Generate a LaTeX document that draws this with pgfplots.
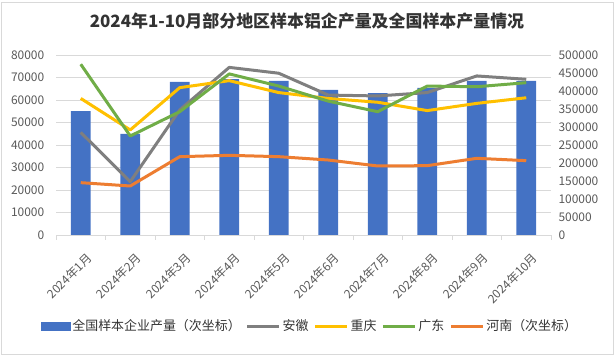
\documentclass[border=0pt]{standalone}
\usepackage{pgfplots}
\pgfplotsset{compat=1.18}
\usepackage{fontspec}
\setmainfont{Noto Sans CJK SC}
\definecolor{barblue}{HTML}{4472C4}
\definecolor{ahgray}{HTML}{7F7F7F}
\definecolor{cqyellow}{HTML}{FFC000}
\definecolor{gdgreen}{HTML}{70AD47}
\definecolor{hnorange}{HTML}{ED7D31}
\definecolor{gridgray}{HTML}{D9D9D9}
\definecolor{txtgray}{HTML}{595959}
\pgfplotsset{
  base/.style={
    scale only axis, width=495bp, height=180bp,
    at={(56bp,120bp)}, anchor=south west,
    xmin=-0.5, xmax=9.5, ymin=0,
    scaled y ticks=false,
    /pgf/number format/assume math mode=true,
    /pgf/number format/1000 sep={},
    /pgf/number format/fixed,
    tick label style={font=\fontsize{12}{13}\selectfont, text=txtgray},
  },
  lineleg/.style={legend image code/.code={\draw[##1] (0bp,0bp) -- (32bp,0bp);}},
  barleg/.style={legend image code/.code={\fill[barblue] (0bp,-4bp) rectangle (29bp,4bp);}},
}
\begin{document}
\begin{tikzpicture}
\useasboundingbox (0,0) rectangle (615bp,355bp);
\draw[gridgray, line width=0.75bp] (1bp,1bp) rectangle (613.5bp,353bp);
\node[font=\fontsize{17}{19}\selectfont\bfseries, text=black!80] at (307bp,334bp) {2024年1-10月部分地区样本铝企产量及全国样本产量情况};
% axis 1: grid, left labels, x labels
\begin{axis}[base,
  ymax=80000, ytick={0,10000,...,80000},
  ymajorgrids, grid style={gridgray, line width=0.75bp},
  axis lines*=left,
  y axis line style={draw=none},
  x axis line style={gridgray, line width=0.75bp},
  ytick style={draw=none},
  xtick={0,...,9},
  xticklabels={2024年1月,2024年2月,2024年3月,2024年4月,2024年5月,2024年6月,2024年7月,2024年8月,2024年9月,2024年10月},
  major x tick style={draw=none},
  minor xtick={-0.5,0.5,...,9.5},
  minor x tick style={gridgray, line width=0.75bp},
  minor tick length=5bp, tick align=outside,
  x tick label style={rotate=45, anchor=north east, yshift=-9bp, xshift=-2bp},
  y tick label style={xshift=-4bp},
]
\addplot[draw=none] coordinates {(0,0)};
\end{axis}
% axis 2: secondary axis with bars and Henan
\begin{axis}[base,
  ymax=500000, ytick={0,50000,...,500000},
  axis x line=none, axis y line*=right,
  y axis line style={draw=none}, ytick style={draw=none},
  y tick label style={xshift=4bp},
]
\addplot[ybar, bar width=0.4, fill=barblue, draw=none] coordinates {
 (0,344000) (1,281000) (2,425000) (3,433000) (4,428000)
 (5,403000) (6,394000) (7,409000) (8,428000) (9,428000)};
\addplot[hnorange, line width=3bp, line join=round] coordinates {
 (0,145400) (1,136100) (2,217600) (3,221300) (4,217600)
 (5,208300) (6,191700) (7,192600) (8,213000) (9,206500)};
\end{axis}
% axis 3: primary lines + legend
\begin{axis}[base,
  ymax=80000, hide axis,
  legend columns=5,
  legend style={at={(254bp,-91bp)}, anchor=center, draw=none, fill=none,
    font=\fontsize{13}{14}\selectfont, text=black!80,
    /tikz/every even column/.append style={column sep=3bp},
    /tikz/every odd column/.append style={column sep=0bp}},
  legend cell align=left,
]
\addlegendimage{barleg}
\addlegendentry{全国样本企业产量（次坐标）}
\addplot[ahgray, line width=3bp, line join=round, lineleg] coordinates {
 (0,45600) (1,23700) (2,55600) (3,74500) (4,71900)
 (5,62200) (6,61800) (7,63300) (8,70700) (9,69200)};
\addlegendentry{安徽}
\addplot[cqyellow, line width=3bp, line join=round, lineleg] coordinates {
 (0,60700) (1,46700) (2,65500) (3,68600) (4,63300)
 (5,60700) (6,59000) (7,55300) (8,58500) (9,61000)};
\addlegendentry{重庆}
\addplot[gdgreen, line width=3bp, line join=round, lineleg] coordinates {
 (0,75900) (1,44000) (2,54800) (3,71600) (4,66200)
 (5,59500) (6,54800) (7,66200) (8,65900) (9,67700)};
\addlegendentry{广东}
\addlegendimage{hnorange, line width=3bp, lineleg}
\addlegendentry{河南（次坐标）}
\end{axis}
\end{tikzpicture}
\end{document}
